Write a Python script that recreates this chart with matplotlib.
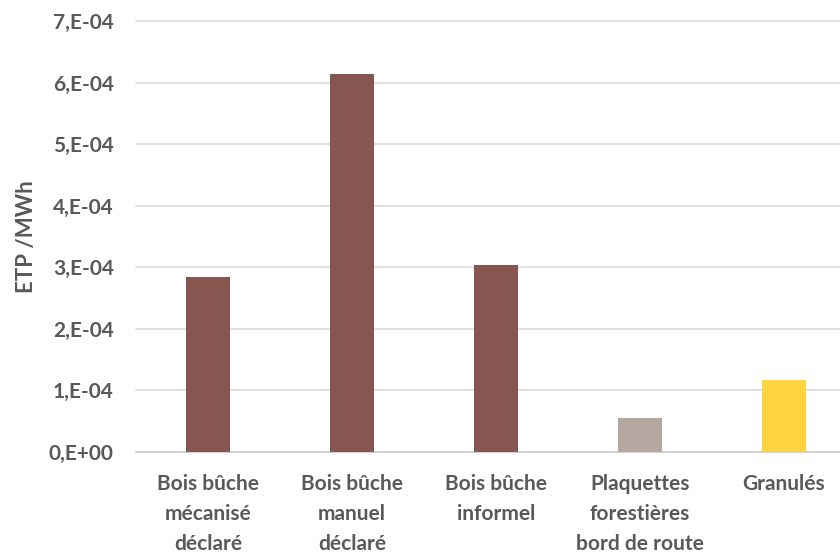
import matplotlib
matplotlib.use("Agg")
import matplotlib.pyplot as plt

categories = [
    "Bois bûche\nmécanisé\ndéclaré",
    "Bois bûche\nmanuel\ndéclaré",
    "Bois bûche\ninformel",
    "Plaquettes\nforestières\nbord de route",
    "Granulés",
]
values = [2.84e-4, 6.14e-4, 3.03e-4, 0.55e-4, 1.17e-4]
colors = ["#875650", "#875650", "#875650", "#B5A8A0", "#FFD43F"]
yticks = [0, 1e-4, 2e-4, 3e-4, 4e-4, 5e-4, 6e-4, 7e-4]
ytick_labels = ["0,E+00", "1,E-04", "2,E-04", "3,E-04", "4,E-04", "5,E-04", "6,E-04", "7,E-04"]

text_color = "#595959"
font = ["Lato", "DejaVu Sans"]

fig = plt.figure(figsize=(8.4, 5.54), dpi=100)
ax = fig.add_axes([136 / 840, 102.5 / 554, 1 - 136 / 840, 430.5 / 554])

x = list(range(len(categories)))
ax.bar(x, values, width=0.306, color=colors, zorder=3)

ax.set_xlim(-0.5, -0.5 + 704 / 144)
ax.set_ylim(0, 7e-4)
ax.set_yticks(yticks)
ax.set_yticklabels(ytick_labels, family=font, fontweight="bold", fontsize=15, color=text_color)
ax.set_xticks(x)
ax.set_xticklabels(categories, family=font, fontweight="bold", fontsize=15,
                   color=text_color, linespacing=1.62, va="top")
ax.tick_params(axis="y", length=0, pad=16)
ax.tick_params(axis="x", length=0, pad=16)

ax.grid(axis="y", color="#D9D9D9", linewidth=1.1, zorder=0)
for gl in ax.get_ygridlines():
    gl.set_clip_on(False)
for side in ["top", "right", "left"]:
    ax.spines[side].set_visible(False)
ax.spines["bottom"].set_color("#D0D0D0")
ax.spines["bottom"].set_linewidth(1.3)

fig.text(27 / 840, 1 - 237 / 554, "ETP /MWh", rotation=90, ha="center", va="center",
         family=font, fontweight="bold", fontsize=16, color=text_color)

fig.savefig("out.png", dpi=100, facecolor="white")
